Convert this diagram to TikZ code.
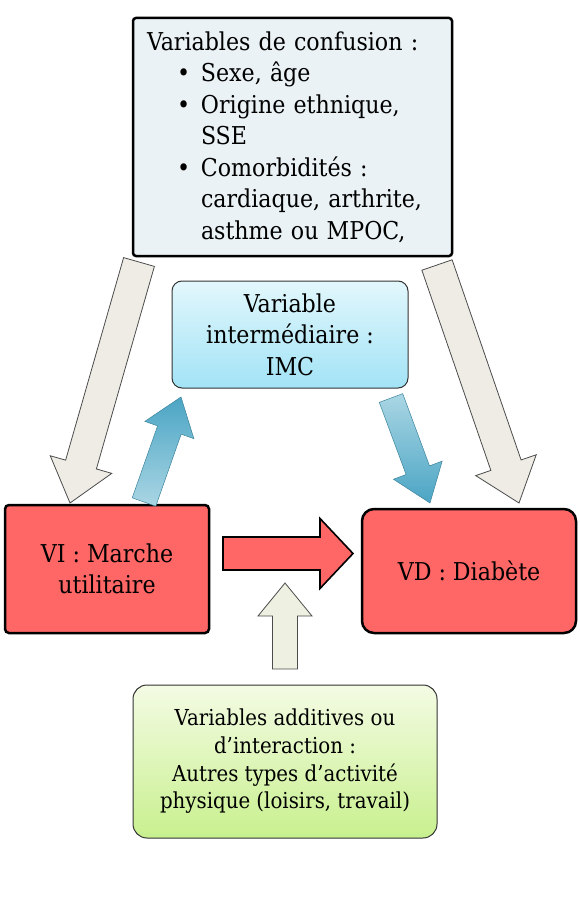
\documentclass[tikz,border=0pt]{standalone}
\usepackage{fontspec}
\setmainfont{DejaVu Serif Condensed}
\usepackage{tikz}
\usetikzlibrary{calc}
\definecolor{confgray}{HTML}{EAF2F5}
\definecolor{varred}{HTML}{FF6666}
\definecolor{midtop}{HTML}{E2F7FC}
\definecolor{midbot}{HTML}{A2E3F6}
\definecolor{addtop}{HTML}{F4FBE4}
\definecolor{addbot}{HTML}{C8F08E}
\definecolor{arrowbeige}{HTML}{EEECE5}
\definecolor{arrowgreen}{HTML}{EEF1E1}
\definecolor{bluedark}{HTML}{4BA5C4}
\definecolor{bluelight}{HTML}{AAD6E4}
\def\blockarrow[#1](#2)(#3)(#4:#5:#6){%
  \coordinate (ba-n) at ($(#3)!#6pt!(#2)$);
  \draw[#1] ($(#2)!#4pt!90:(#3)$) -- ($(ba-n)!#4pt!90:(#3)$) -- ($(ba-n)!#5pt!90:(#3)$) -- (#3)
    -- ($(ba-n)!#5pt!-90:(#3)$) -- ($(ba-n)!#4pt!-90:(#3)$) -- ($(#2)!#4pt!-90:(#3)$) -- cycle;}
\tikzset{
  bigtext/.style={font=\fontsize{24.6}{31.5}\selectfont},
  confbox/.style={draw=black, line width=2.5pt, rounded corners=3pt, fill=confgray, bigtext,
    minimum width=319, minimum height=238, text width=291, inner xsep=14, align=left},
  midbox/.style={draw=black!80, line width=1pt, rounded corners=10pt, top color=midtop, bottom color=midbot,
    bigtext, minimum width=236, minimum height=107, align=center},
  redbox/.style={draw=black, line width=2.5pt, fill=varred, bigtext, align=center},
  addbox/.style={draw=black!80, line width=1pt, rounded corners=14pt, top color=addtop, bottom color=addbot,
    font=\fontsize{22}{27.7}\selectfont, minimum width=304, minimum height=153, align=center},
  grayarrow/.style={fill=arrowbeige, draw=black!70, line width=0.8pt},
  bluearrow/.style={draw=bluedark!80!black, line width=0.5pt},
  redarrow/.style={fill=varred, draw=black, line width=1.6pt},
  greenarrow/.style={fill=arrowgreen, draw=black!70, line width=0.8pt}
}
\begin{document}
\begin{tikzpicture}[x=1pt, y=-1pt]
		%%%%% START %%%%%
		\useasboundingbox (0, 0) rectangle (579, 909);
		
		\node[confbox] (conf) at (292.5, 137) {Variables de confusion :\\
			\hspace*{30pt}\makebox[24pt][l]{•}Sexe, âge\\
			\hspace*{30pt}\makebox[24pt][l]{•}Origine ethnique,\\
			\hspace*{54pt}SSE\\
			\hspace*{30pt}\makebox[24pt][l]{•}Comorbidités :\\
			\hspace*{54pt}cardiaque, arthrite,\\
			\hspace*{54pt}asthme ou MPOC,};
		
		\node[midbox] (mid) at (290, 334.5) {Variable\\intermédiaire :\\IMC};
		
		\node[redbox, rounded corners=4pt, minimum width=204, minimum height=128] (vi) at (107, 569) {VI : Marche\\utilitaire};
		\node[redbox, rounded corners=12pt, minimum width=214, minimum height=124] (vd) at (469, 571) {VD : Diabète};
		
		\node[addbox] (add) at (285, 761.5) {Variables additives ou\\d’interaction :\\Autres types d’activité\\physique (loisirs, travail)};
		
		% confusion
		\coordinate (confL) at (139, 262);
		\coordinate (viT) at (70, 503);
		\coordinate (confR) at (437, 265);
		\coordinate (vdT) at (519, 503);
		\blockarrow[grayarrow](confL)(viT)(16:32:40);
		\blockarrow[grayarrow](confR)(vdT)(16:32:40);
		
		% intermediaire
		\coordinate (viM) at (144, 502);
		\coordinate (midL) at (181, 397);
		\coordinate (midR) at (391, 398);
		\coordinate (vdM) at (430, 503);
		\blockarrow[bluearrow, top color=bluedark, bottom color=bluelight](viM)(midL)(12.5:26:35);
		\blockarrow[bluearrow, top color=bluelight, bottom color=bluedark](midR)(vdM)(12.5:26:35);
		
		% effet principal
		\coordinate (mainS) at (223, 553.5);
		\coordinate (mainE) at (353, 553.5);
		\blockarrow[redarrow](mainS)(mainE)(16.5:35:33);
		
		\coordinate (addT) at (285, 669);
		\coordinate (mainB) at (285, 583);
		\blockarrow[greenarrow](addT)(mainB)(12.5:27:33);
		
		%%%%% END %%%%%
	\end{tikzpicture}
\end{document}
